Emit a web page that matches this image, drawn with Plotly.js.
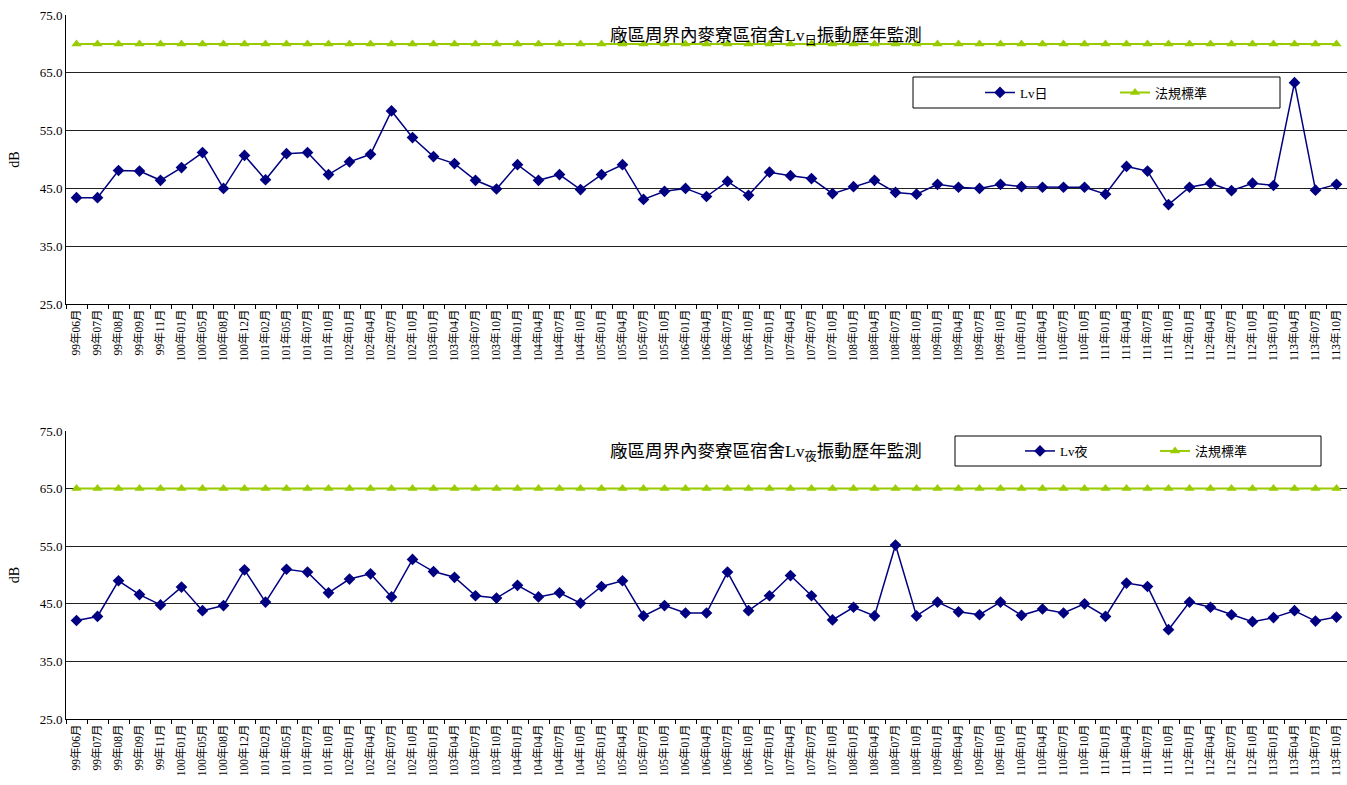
<!DOCTYPE html>
<html>
<head>
<meta charset="utf-8">
<script src="https://cdn.plot.ly/plotly-3.0.1.min.js"></script>
<style>html,body{margin:0;padding:0;background:#fff;}#chart{width:1347px;height:785px;}</style>
</head>
<body>
<div id="chart"></div>
<script>
const categories = ["99年06月","99年07月","99年08月","99年09月","99年11月","100年01月","100年05月","100年08月","100年12月","101年02月","101年05月","101年07月","101年10月","102年01月","102年04月","102年07月","102年10月","103年01月","103年04月","103年07月","103年10月","104年01月","104年04月","104年07月","104年10月","105年01月","105年04月","105年07月","105年10月","106年01月","106年04月","106年07月","106年10月","107年01月","107年04月","107年07月","107年10月","108年01月","108年04月","108年07月","108年10月","109年01月","109年04月","109年07月","109年10月","110年01月","110年04月","110年07月","110年10月","111年01月","111年04月","111年07月","111年10月","112年01月","112年04月","112年07月","112年10月","113年01月","113年04月","113年07月","113年10月"];

const lvDay = [43.4,43.4,48.1,48.0,46.4,48.6,51.2,45.0,50.7,46.5,51.0,51.2,47.4,49.6,50.9,58.4,53.8,50.5,49.3,46.4,44.9,49.1,46.4,47.4,44.8,47.4,49.1,43.1,44.5,45.0,43.6,46.2,43.8,47.8,47.2,46.7,44.1,45.3,46.4,44.3,44.0,45.7,45.2,45.0,45.7,45.3,45.2,45.2,45.2,44.0,48.8,48.0,42.2,45.2,45.9,44.6,45.9,45.5,63.3,44.7,45.7];

const stdDay = [70,70,70,70,70,70,70,70,70,70,70,70,70,70,70,70,70,70,70,70,70,70,70,70,70,70,70,70,70,70,70,70,70,70,70,70,70,70,70,70,70,70,70,70,70,70,70,70,70,70,70,70,70,70,70,70,70,70,70,70,70];

const lvNight = [42.1,42.8,49.0,46.6,44.8,47.9,43.8,44.7,50.9,45.3,51.0,50.5,46.9,49.3,50.2,46.2,52.7,50.6,49.6,46.4,46.0,48.2,46.2,46.9,45.1,48.0,49.0,42.9,44.7,43.4,43.4,50.5,43.8,46.4,49.9,46.4,42.2,44.4,42.9,55.2,42.9,45.3,43.6,43.1,45.3,43.0,44.1,43.4,45.0,42.8,48.6,48.0,40.5,45.3,44.4,43.1,41.9,42.6,43.8,42.0,42.7];

const stdNight = [65,65,65,65,65,65,65,65,65,65,65,65,65,65,65,65,65,65,65,65,65,65,65,65,65,65,65,65,65,65,65,65,65,65,65,65,65,65,65,65,65,65,65,65,65,65,65,65,65,65,65,65,65,65,65,65,65,65,65,65,65];

const yTicks = [25,35,45,55,65,75];

const serif = "'Liberation Serif','Times New Roman','Noto Sans CJK TC',serif";
const navy = "#000080";
const lime = "#99CC00";

// pixel -> plot-area paper coordinate helpers (margin l=66, r=0)
const PL = 66, PW = 1347 - 66, H = 785;
const px = v => (v - PL) / PW;
const py = v => 1 - v / H;

const traces = [
  {x: categories, y: lvDay, name: "Lv日", type: "scatter", mode: "lines+markers",
   line: {color: navy, width: 1.5}, marker: {symbol: "diamond", size: 9, color: navy},
   xaxis: "x", yaxis: "y", legend: "legend"},
  {x: categories, y: stdDay, name: "法規標準", type: "scatter", mode: "lines+markers",
   line: {color: lime, width: 2}, marker: {symbol: "triangle-up", size: 9, color: lime},
   xaxis: "x", yaxis: "y", legend: "legend"},
  {x: categories, y: lvNight, name: "Lv夜", type: "scatter", mode: "lines+markers",
   line: {color: navy, width: 1.5}, marker: {symbol: "diamond", size: 9, color: navy},
   xaxis: "x2", yaxis: "y2", legend: "legend2"},
  {x: categories, y: stdNight, name: "法規標準", type: "scatter", mode: "lines+markers",
   line: {color: lime, width: 2}, marker: {symbol: "triangle-up", size: 9, color: lime},
   xaxis: "x2", yaxis: "y2", legend: "legend2"}
];

function xAxis(anchor) {
  return {
    type: "category", anchor: anchor, domain: [0, 1], range: [-0.5, 60.5],
    tickangle: -90, tickfont: {family: serif, size: 11.5, color: "#000"},
    showline: true, linecolor: "#000", linewidth: 1, mirror: false,
    showgrid: false, zeroline: false, automargin: false,
    ticks: "outside", ticklen: 4, tickcolor: "#000", tickson: "boundaries",
    fixedrange: true
  };
}
function yAxis(anchor, domain) {
  return {
    anchor: anchor, domain: domain, range: [25, 75],
    tickvals: yTicks, tickformat: ".1f",
    tickfont: {family: serif, size: 13, color: "#000"},
    showline: true, linecolor: "#000", linewidth: 1,
    showgrid: true, gridcolor: "#222", gridwidth: 1, zeroline: false,
    ticks: "", automargin: false,
    title: {text: "dB", font: {family: serif, size: 14, color: "#000"}, standoff: 16},
    fixedrange: true
  };
}

const legendCommon = {orientation: "h", xanchor: "left", yanchor: "middle",
  bgcolor: "rgba(0,0,0,0)", borderwidth: 0, font: {family: serif, size: 13, color: "#000"},
  entrywidth: 90, entrywidthmode: "pixels"};

const layout = {
  width: 1347, height: 785,
  margin: {l: PL, r: 0, t: 0, b: 0, autoexpand: false},
  paper_bgcolor: "#fff", plot_bgcolor: "#fff",
  font: {family: serif, color: "#000"},
  xaxis: xAxis("y"),
  yaxis: yAxis("x", [1 - 304/H, 1 - 15/H]),
  xaxis2: xAxis("y2"),
  yaxis2: yAxis("x2", [1 - 719/H, 1 - 431/H]),
  showlegend: true,
  legend: Object.assign({x: px(980), y: py(92.5)}, legendCommon),
  legend2: Object.assign({x: px(1020), y: py(451)}, legendCommon),
  shapes: [
    {type: "rect", xref: "paper", yref: "paper", x0: px(913), x1: px(1280), y0: py(108), y1: py(77),
     line: {color: "#000", width: 1}, fillcolor: "#fff", layer: "below"},
    {type: "rect", xref: "paper", yref: "paper", x0: px(955), x1: px(1321), y0: py(466), y1: py(436),
     line: {color: "#000", width: 1}, fillcolor: "#fff", layer: "below"}
  ],
  annotations: [
    {xref: "paper", yref: "paper", x: px(766), y: py(37), xanchor: "center", yanchor: "middle",
     showarrow: false, text: "廠區周界內麥寮區宿舍Lv<sub>日</sub>振動歷年監測",
     font: {family: serif, size: 17.5, color: "#000"}},
    {xref: "paper", yref: "paper", x: px(766), y: py(452), xanchor: "center", yanchor: "middle",
     showarrow: false, text: "廠區周界內麥寮區宿舍Lv<sub>夜</sub>振動歷年監測",
     font: {family: serif, size: 17.5, color: "#000"}}
  ]
};

Plotly.newPlot("chart", traces, layout, {displayModeBar: false, staticPlot: true});
</script>
</body>
</html>
